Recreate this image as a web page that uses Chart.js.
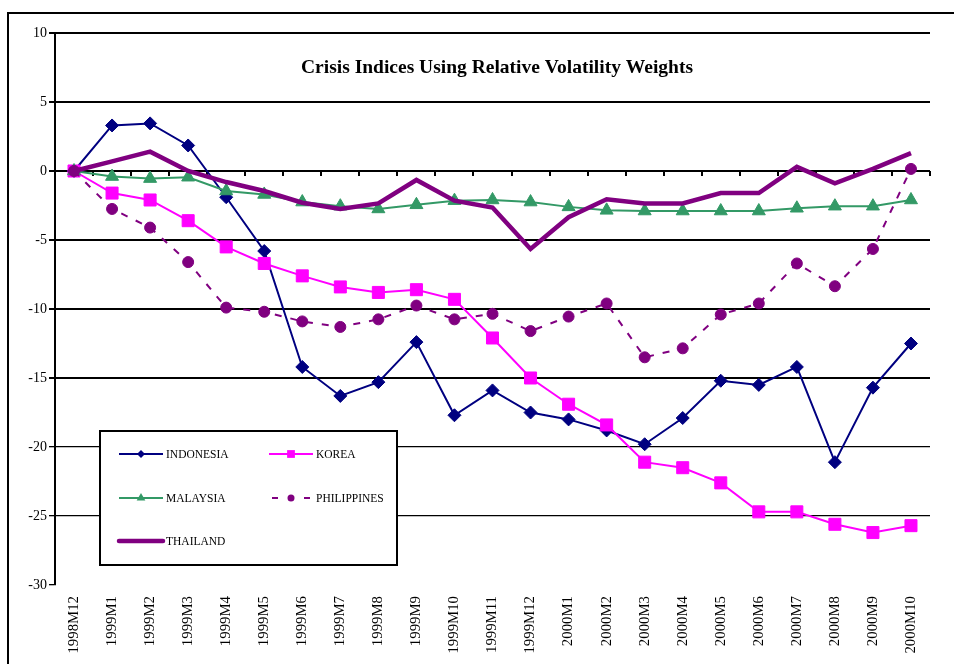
<!DOCTYPE html>
<html>
<head>
<meta charset="utf-8">
<script src="https://cdn.jsdelivr.net/npm/chart.js@4.4.0/dist/chart.umd.min.js"></script>
<style>
  html, body { margin: 0; padding: 0; background: #fff; overflow: hidden; }
  .chart-wrapper { position: relative; width: 954px; height: 664px; }
  .frame { position: absolute; left: 7px; top: 12px; width: 1000px; height: 700px;
           border-left: 2px solid #000; border-top: 2px solid #000; pointer-events: none; }
</style>
</head>
<body>
<div class="chart-wrapper">
  <canvas id="myChart" width="954" height="664"></canvas>
  <div class="frame"></div>
</div>
<script>
const months = ["1998M12", "1999M1", "1999M2", "1999M3", "1999M4", "1999M5", "1999M6", "1999M7",
  "1999M8", "1999M9", "1999M10", "1999M11", "1999M12", "2000M1", "2000M2", "2000M3", "2000M4",
  "2000M5", "2000M6", "2000M7", "2000M8", "2000M9", "2000M10"];

const indonesia = [0, 3.3, 3.45, 1.85, -1.9, -5.8, -14.2, -16.3, -15.3, -12.4, -17.7, -15.9,
  -17.5, -18.0, -18.8, -19.8, -17.9, -15.2, -15.5, -14.2, -21.1, -15.7, -12.5];
const korea = [0, -1.6, -2.1, -3.6, -5.5, -6.7, -7.6, -8.4, -8.8, -8.6, -9.3, -12.1,
  -15.0, -16.9, -18.4, -21.1, -21.5, -22.6, -24.7, -24.7, -25.6, -26.2, -25.7];
const malaysia = [0, -0.4, -0.55, -0.45, -1.45, -1.7, -2.25, -2.55, -2.75, -2.45, -2.15, -2.1,
  -2.25, -2.6, -2.85, -2.9, -2.9, -2.9, -2.9, -2.7, -2.55, -2.55, -2.1];
const philippines = [0, -2.75, -4.1, -6.6, -9.9, -10.2, -10.9, -11.3, -10.75, -9.75, -10.75, -10.35,
  -11.6, -10.55, -9.6, -13.5, -12.85, -10.4, -9.6, -6.7, -8.35, -5.65, 0.15];
const thailand = [0, 0.7, 1.4, 0, -0.8, -1.45, -2.3, -2.75, -2.35, -0.65, -2.15, -2.65,
  -5.65, -3.35, -2.05, -2.35, -2.35, -1.6, -1.6, 0.3, -0.9, 0.15, 1.3];

const yMin = -30;
const yMax = 10;
const yStep = 5;
const chartTitle = "Crisis Indices Using Relative Volatility Weights";

const serif = '"Liberation Serif", "Times New Roman", serif';

// Excel style: later series are drawn on top
const datasets = [
  { label: "INDONESIA", data: indonesia, borderColor: "#000080", backgroundColor: "#000080",
    borderWidth: 2, pointStyle: "rectRot", pointRadius: 6.5, order: 4, legendRadius: 4 },
  { label: "KOREA", data: korea, borderColor: "#FF00FF", backgroundColor: "#FF00FF",
    borderWidth: 2, pointStyle: "rect", pointRadius: 8.5, order: 3, legendRadius: 5.5 },
  { label: "MALAYSIA", data: malaysia, borderColor: "#339966", backgroundColor: "#339966",
    borderWidth: 2, pointStyle: "triangle", pointRadius: 7.5, order: 2, legendRadius: 5 },
  { label: "PHILIPPINES", data: philippines, borderColor: "#800080", backgroundColor: "#800080",
    borderWidth: 2, borderDash: [7, 9], pointStyle: "circle", pointRadius: 5.5, order: 1, legendRadius: 3.5 },
  { label: "THAILAND", data: thailand, borderColor: "#800080", backgroundColor: "#800080",
    borderWidth: 4.5, pointRadius: 0, order: 0, legendRadius: 0 }
];
datasets.forEach(d => {
  d.pointBorderWidth = 1;
  d.pointHoverRadius = d.pointRadius;
  d.tension = 0;
  d.fill = false;
});

const drawMarker = (ctx, style, r, x, y, color) => {
  ctx.save();
  ctx.fillStyle = color;
  ctx.strokeStyle = color;
  ctx.beginPath();
  if (style === "rectRot") {
    ctx.moveTo(x, y - r); ctx.lineTo(x + r, y); ctx.lineTo(x, y + r); ctx.lineTo(x - r, y);
  } else if (style === "rect") {
    const s = r * Math.SQRT1_2;
    ctx.rect(x - s, y - s, 2 * s, 2 * s);
  } else if (style === "triangle") {
    ctx.moveTo(x, y - r);
    ctx.lineTo(x + r * 0.866, y + r * 0.5);
    ctx.lineTo(x - r * 0.866, y + r * 0.5);
  } else {
    ctx.arc(x, y, r, 0, Math.PI * 2);
  }
  ctx.closePath();
  ctx.fill();
  ctx.restore();
};

const insideTitle = {
  id: "insideTitle",
  afterDraw(chart) {
    const { ctx, chartArea } = chart;
    ctx.save();
    ctx.font = "bold 19.5px " + serif;
    ctx.fillStyle = "#000";
    ctx.textAlign = "center";
    ctx.textBaseline = "alphabetic";
    ctx.fillText(chartTitle, chartArea.left + 442, chartArea.top + 40);
    ctx.restore();
  }
};

// little category ticks hanging under the zero line
const zeroTicks = {
  id: "zeroTicks",
  beforeDatasetsDraw(chart) {
    const { ctx, scales } = chart;
    const x = scales.x, y = scales.y;
    const half = (x.getPixelForValue(1) - x.getPixelForValue(0)) / 2;
    const y0 = y.getPixelForValue(0);
    ctx.save();
    ctx.strokeStyle = "#000";
    ctx.lineWidth = 2;
    ctx.beginPath();
    for (let i = 0; i <= months.length; i++) {
      const px = Math.round(x.getPixelForValue(i) - half);
      ctx.moveTo(px, y0);
      ctx.lineTo(px, y0 + 5);
    }
    ctx.stroke();
    ctx.restore();
  }
};

const boxLegend = {
  id: "boxLegend",
  afterDatasetsDraw(chart) {
    const { ctx, chartArea } = chart;
    const bx = chartArea.left + 45, by = chartArea.top + 398, bw = 297, bh = 134;
    ctx.save();
    ctx.fillStyle = "#fff";
    ctx.fillRect(bx, by, bw, bh);
    ctx.strokeStyle = "#000";
    ctx.lineWidth = 2;
    ctx.strokeRect(bx, by, bw, bh);
    const cols = [bx + 19, bx + 169];
    const rows = [by + 23, by + 67, by + 110];
    ctx.font = "11.5px " + serif;
    ctx.textBaseline = "middle";
    ctx.textAlign = "left";
    datasets.forEach((d, i) => {
      const lx = cols[i % 2], ly = rows[Math.floor(i / 2)];
      ctx.strokeStyle = d.borderColor;
      ctx.lineWidth = d.borderWidth;
      ctx.lineCap = d.borderWidth > 3 ? "round" : "butt";
      ctx.setLineDash(d.borderDash ? [6, 10] : []);
      ctx.beginPath();
      ctx.moveTo(lx + (d.borderDash ? 3 : 0), ly);
      ctx.lineTo(lx + 44, ly);
      ctx.stroke();
      ctx.setLineDash([]);
      if (d.legendRadius) drawMarker(ctx, d.pointStyle, d.legendRadius, lx + 22, ly, d.backgroundColor);
      ctx.fillStyle = "#000";
      ctx.fillText(d.label, lx + 47, ly + 1);
    });
    ctx.restore();
  }
};

const ctx = document.getElementById("myChart");
new Chart(ctx, {
  type: "line",
  data: { labels: months, datasets: datasets },
  options: {
    responsive: false,
    animation: false,
    devicePixelRatio: 1,
    layout: { padding: { top: 33, right: 24, left: 0, bottom: 0 } },
    plugins: { legend: { display: false }, tooltip: { enabled: false }, title: { display: false } },
    scales: {
      x: {
        offset: true,
        grid: { display: false },
        border: { display: false },
        afterFit: (scale) => { scale.height = 79; },
        ticks: {
          autoSkip: false, maxRotation: 90, minRotation: 90, padding: 3,
          color: "#000", font: { family: serif, size: 14.8 }
        }
      },
      y: {
        min: yMin, max: yMax,
        afterFit: (scale) => { scale.width = 55; },
        border: { display: true, color: "#000", width: 2 },
        grid: {
          color: (c) => (c.tick && c.tick.value === yMin ? "rgba(0,0,0,0)" : "#000"),
          lineWidth: (c) => (c.tick && c.tick.value < -15 ? 1.3 : 2),
          tickColor: "#000", tickLength: 6, drawTicks: true
        },
        ticks: { stepSize: yStep, padding: 2, color: "#000", font: { family: serif, size: 14 } }
      }
    }
  },
  plugins: [zeroTicks, boxLegend, insideTitle]
});
</script>
</body>
</html>
